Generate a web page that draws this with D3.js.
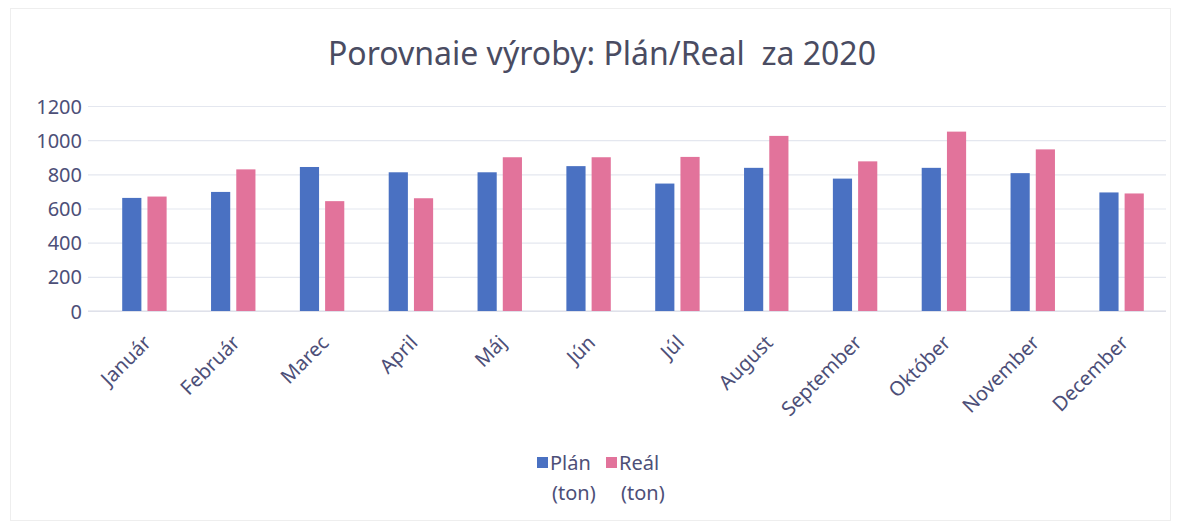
<!DOCTYPE html>
<html>
<head>
<meta charset="utf-8">
<script src="https://cdn.jsdelivr.net/npm/d3@7"></script>
<style>
  html, body { margin: 0; padding: 0; background: #ffffff; }
  svg { display: block; }
  text { white-space: pre; }
</style>
</head>
<body>
<svg id="chart" width="1182" height="524"></svg>
<script>
const months = ["Január","Február","Marec","April","Máj","Jún","Júl","August","September","Október","November","December"];
const planValues = [662, 697, 843, 812, 812, 848, 746, 838, 775, 838, 807, 694];
const realValues = [670, 829, 643, 660, 900, 900, 902, 1025, 876, 1050, 946, 688];
const seriesNames = ["Plán", "Reál"];
const seriesColors = ["#4a71c2", "#e2739b"];
const yTicks = [0, 200, 400, 600, 800, 1000, 1200];
const titleText = "Porovnaie výroby: Plán/Real  za 2020";

(function () {
const svg = d3.select("#chart");
const textColor = "#4d4f78";
const font = "'Noto Sans', 'Open Sans', sans-serif";

svg.append("rect").attr("x", 10.5).attr("y", 8.5).attr("width", 1160).attr("height", 512)
  .attr("fill", "none").attr("stroke", "#eeeeee").attr("stroke-width", 1);

const mLeft = 100, mRight = 1166, mTop = 106, mBottom = 311;

const x0 = d3.scaleBand().domain(months).range([mLeft, mRight]).paddingInner(0.5).paddingOuter(0.25);
const x1 = d3.scaleBand().domain(seriesNames).range([0, x0.bandwidth()]).paddingInner(0.24);
const y = d3.scaleLinear().domain([0, 1200]).range([mBottom, mTop]);

const yAxis = d3.axisLeft(y).tickValues(yTicks).tickFormat(d3.format("d"))
  .tickSize(-(mRight - 88)).tickPadding(18);
const gy = svg.append("g").attr("transform", `translate(88,0)`).call(yAxis);
gy.select(".domain").remove();
gy.selectAll(".tick line").attr("stroke", "#e4e7ef").attr("stroke-width", 1.2);
gy.selectAll(".tick text").attr("fill", textColor).attr("font-family", font)
  .attr("font-size", 20).attr("x", -6).attr("dy", "0.35em");

svg.append("line").attr("x1", 88).attr("x2", mRight).attr("y1", y(0)).attr("y2", y(0))
  .attr("stroke", "#d9dce6").attr("stroke-width", 1.2);

const data = months.map((m, i) => ({ month: m, values: [planValues[i], realValues[i]] }));
const groups = svg.append("g").selectAll("g").data(data).join("g")
  .attr("transform", d => `translate(${x0(d.month)},0)`);
groups.selectAll("rect").data(d => d.values.map((v, j) => ({ key: seriesNames[j], value: v, j })))
  .join("rect")
  .attr("x", d => x1(d.key))
  .attr("y", d => y(d.value))
  .attr("width", x1.bandwidth())
  .attr("height", d => y(0) - y(d.value))
  .attr("fill", d => seriesColors[d.j]);

const xAxis = d3.axisBottom(x0).tickSize(0).tickPadding(0);
const gx = svg.append("g").attr("transform", `translate(0,${y(0)})`).call(xAxis);
gx.select(".domain").remove();
gx.selectAll(".tick text")
  .attr("fill", textColor).attr("font-family", font).attr("font-size", 20)
  .attr("text-anchor", "end")
  .attr("transform", "translate(3,28) rotate(-45)")
  .attr("dy", "0.35em").attr("y", 0);

svg.append("text").attr("x", 602).attr("y", 65).attr("text-anchor", "middle")
  .attr("fill", "#4a4c62").attr("font-family", font).attr("font-size", 32)
  .attr("xml:space", "preserve")
  .text(titleText);

const legendX = [537, 606];
seriesNames.forEach((name, i) => {
  const g = svg.append("g").attr("transform", `translate(${legendX[i]},0)`);
  g.append("rect").attr("x", 0).attr("y", 457).attr("width", 11).attr("height", 11).attr("fill", seriesColors[i]);
  g.append("text").attr("x", 13).attr("y", 470).attr("fill", textColor)
    .attr("font-family", font).attr("font-size", 20).text(name);
  g.append("text").attr("x", 15).attr("y", 500).attr("fill", textColor)
    .attr("font-family", font).attr("font-size", 20).text("(ton)");
});
})();
</script>
</body>
</html>
